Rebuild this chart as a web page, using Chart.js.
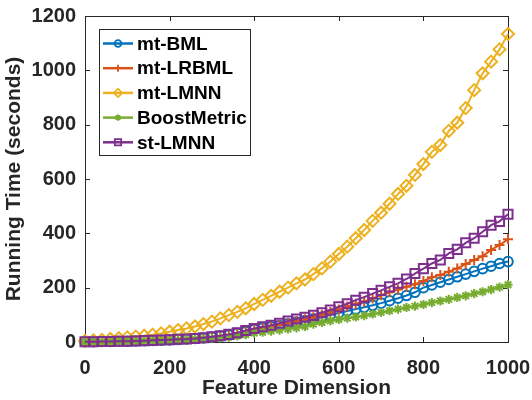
<!DOCTYPE html>
<html>
<head>
<meta charset="utf-8">
<script src="https://cdn.jsdelivr.net/npm/chart.js@4/dist/chart.umd.min.js"></script>
<style>
html,body{margin:0;padding:0;background:#fff;}
canvas{display:block;}
</style>
</head>
<body>
<canvas id="c" width="532" height="400"></canvas>
<script>
// Feature dimension (x) values
const dims = [0,20,40,60,80,100,120,140,160,180,200,220,240,260,280,300,320,340,360,380,400,420,440,460,480,500,520,540,560,580,600,620,640,660,680,700,720,740,760,780,800,820,840,860,880,900,920,940,960,980,1000];

const mtBML = [1,1,2,2,3,3,4,5,6,7,8,9,11,13,15,18,22,26,32,38,46,51,56,61,67,73,79,85,92,100,107,114,121,128,135,143,152,161,171,183,200,210,220,230,240,250,260,270,279,289,296];
const mtLRBML = [1,1,2,2,3,3,4,5,6,7,8,9,11,13,15,18,22,26,32,39,46,52,57,63,70,77,84,91,100,110,120,131,141,149,160,172,183,193,203,213,225,238,247,259,271,287,302,316,339,357,378];
const mtLMNN = [4,6,8,11,14,17,20,23,27,32,38,44,50,57,66,75,87,99,111,124,140,155,170,185,200,216,230,250,271,296,324,351,382,412,446,476,509,545,575,615,655,700,725,777,807,861,927,989,1032,1077,1134];
const boostMetric = [1,1,1,2,2,3,3,4,5,5,6,7,8,10,11,13,15,18,22,27,33,36,40,44,48,52,57,66,72,78,83,88,92,97,103,109,115,121,127,132,138,145,151,157,164,170,178,185,193,202,211];
const stLMNN = [1,1,2,2,3,3,4,5,6,7,8,10,11,13,16,19,23,28,34,42,50,56,62,69,77,85,91,98,108,118,130,141,154,165,178,190,203,216,232,252,270,289,302,326,341,365,382,406,430,444,470];

const xTicks = [0,200,400,600,800,1000];
const yTicks = [0,200,400,600,800,1000,1200];

const seriesNames = ['mt-BML','mt-LRBML','mt-LMNN','BoostMetric','st-LMNN'];
const seriesData = [mtBML, mtLRBML, mtLMNN, boostMetric, stLMNN];
const colors = ['#0072BD','#D95319','#EDB120','#77AC30','#7E2F8E'];
const styles = ['circle','cross','rectRot','star','rect'];
const radii = [4.8,5,6,4.6,6.4];

const FONT = '"Liberation Sans", Arial, Helvetica, sans-serif';
const TXT = '#262626';

const datasets = seriesNames.map((name, k) => ({
  label: name,
  data: dims.map((d, i) => ({x: d, y: seriesData[k][i]})),
  borderColor: colors[k],
  backgroundColor: colors[k],
  borderWidth: 2,
  pointStyle: styles[k],
  pointRadius: radii[k],
  pointBorderWidth: 2,
  pointBackgroundColor: 'rgba(0,0,0,0)',
  pointBorderColor: colors[k],
  tension: 0,
  clip: false,
  order: 4 - k
}));

function drawMarker(ctx, style, x, y, r) {
  if (Chart.helpers && Chart.helpers.drawPoint) {
    Chart.helpers.drawPoint(ctx, {pointStyle: style, radius: r, rotation: 0, borderWidth: 1.8}, x, y);
    return;
  }
  ctx.beginPath(); ctx.arc(x, y, r, 0, Math.PI*2); ctx.stroke();
}

const boxPlugin = {
  id: 'matlabBox',
  beforeDatasetsDraw(chart) {
    const {ctx, chartArea: a, scales} = chart;
    ctx.save();
    ctx.strokeStyle = TXT;
    ctx.lineWidth = 1;
    ctx.strokeRect(a.left + 0.5, a.top + 0.5, a.right - a.left, a.bottom - a.top);
    const tl = 5;
    ctx.beginPath();
    xTicks.forEach(v => {
      const px = Math.round(scales.x.getPixelForValue(v)) + 0.5;
      ctx.moveTo(px, a.bottom); ctx.lineTo(px, a.bottom - tl);
      ctx.moveTo(px, a.top); ctx.lineTo(px, a.top + tl);
    });
    yTicks.forEach(v => {
      const py = Math.round(scales.y.getPixelForValue(v)) + 0.5;
      ctx.moveTo(a.left, py); ctx.lineTo(a.left + tl, py);
      ctx.moveTo(a.right, py); ctx.lineTo(a.right - tl, py);
    });
    ctx.stroke();
    ctx.restore();
  },
  afterDatasetsDraw(chart) {
    const {ctx} = chart;
    ctx.save();
    const bx = 99.5, by = 29.5, bw = 151, bh = 126;
    ctx.fillStyle = '#fff';
    ctx.fillRect(bx, by, bw, bh);
    ctx.strokeStyle = TXT;
    ctx.lineWidth = 1;
    ctx.strokeRect(bx, by, bw, bh);
    ctx.font = 'bold 19px ' + FONT;
    ctx.textBaseline = 'middle';
    ctx.textAlign = 'left';
    seriesNames.forEach((name, k) => {
      const y = 43.5 + k * 24.7;
      ctx.strokeStyle = colors[k];
      ctx.fillStyle = 'rgba(0,0,0,0)';
      ctx.lineWidth = 2.5;
      ctx.beginPath(); ctx.moveTo(103, y); ctx.lineTo(133, y); ctx.stroke();
      ctx.lineWidth = 1.8;
      drawMarker(ctx, styles[k], 118, y, radii[k] * 0.7);
      ctx.fillStyle = '#000';
      ctx.fillText(name, 137, y + 1);
    });
    ctx.restore();
  }
};

new Chart(document.getElementById('c'), {
  type: 'line',
  data: {datasets},
  options: {
    responsive: false,
    animation: false,
    events: [],
    layout: {autoPadding: false, padding: {top: 16, right: 24, left: 0, bottom: 0}},
    plugins: {legend: {display: false}, tooltip: {enabled: false}},
    scales: {
      x: {
        type: 'linear', min: 0, max: 1000,
        afterFit(s) { s.height = 58; s.paddingLeft = 0; s.paddingRight = 0; },
        afterBuildTicks(s) { s.ticks = xTicks.map(v => ({value: v})); },
        grid: {display: false, drawTicks: false},
        border: {display: false},
        ticks: {color: TXT, font: {family: FONT, size: 20, weight: 'bold'}, padding: 14, maxRotation: 0, callback: v => String(v)},
        title: {display: true, text: 'Feature Dimension', color: TXT, font: {family: FONT, size: 21, weight: 'bold', lineHeight: 1.1}, padding: {top: 0, bottom: 0}}
      },
      y: {
        type: 'linear', min: 0, max: 1200,
        afterFit(s) { s.width = 85; s.paddingTop = 0; s.paddingBottom = 0; },
        afterBuildTicks(s) { s.ticks = yTicks.map(v => ({value: v})); },
        grid: {display: false, drawTicks: false},
        border: {display: false},
        ticks: {color: TXT, font: {family: FONT, size: 20, weight: 'bold'}, padding: 9, callback: v => String(v)},
        title: {display: true, text: 'Running Time (seconds)', color: TXT, font: {family: FONT, size: 21, weight: 'bold'}, padding: {top: 2, bottom: 0}}
      }
    }
  },
  plugins: [boxPlugin]
});
</script>
</body>
</html>
